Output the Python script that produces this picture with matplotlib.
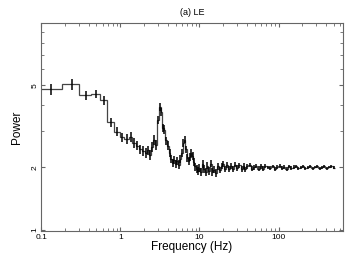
import matplotlib
matplotlib.use("Agg")
import matplotlib.pyplot as plt
import numpy as np
from matplotlib.ticker import FixedLocator, NullFormatter, FixedFormatter

# rebinned power spectrum (bin centres, power, 1-sigma errors)
freq = [0.135, 0.245, 0.37, 0.49, 0.62, 0.76, 0.91, 1.06, 1.2, 1.35,
        1.5, 1.65, 1.8, 1.95, 2.1, 2.25, 2.4, 2.55, 2.7, 2.85,
        3.0, 3.15, 3.3, 3.45, 3.6, 3.8, 4.0, 4.2, 4.4, 4.6,
        4.8, 5.0, 5.25, 5.5, 5.75, 6.0, 6.25, 6.5, 6.75, 7.0,
        7.3, 7.6, 7.9, 8.2, 8.5, 8.8, 9.2, 9.6, 10.0, 10.5,
        11, 11.5, 12, 12.6, 13.2, 13.9, 14.6, 15.3, 16, 17,
        18, 19, 20, 21, 22, 23.5, 25, 26.5, 28, 30,
        32, 34, 36, 38, 40, 43, 46, 49, 52, 56,
        60, 64, 68, 73, 78, 84, 90, 96, 103, 110,
        118, 126, 135, 145, 155, 166, 178, 190, 204, 218,
        234, 250, 268, 287, 307, 329, 352, 377, 404, 432,
        463, 500]
power = [4.77, 5.04, 4.47, 4.52, 4.23, 3.30, 2.98, 2.80, 2.74, 2.82,
         2.62, 2.55, 2.45, 2.40, 2.36, 2.42, 2.30, 2.52, 2.72, 2.58,
         3.40, 3.92, 3.70, 3.10, 3.05, 2.70, 2.55, 2.35, 2.20, 2.10,
         2.18, 2.08, 2.15, 2.06, 2.20, 2.35, 2.62, 2.72, 2.45, 2.22,
         2.15, 2.25, 2.35, 2.28, 2.12, 2.02, 1.96, 1.92, 1.98, 1.90,
         2.08, 1.96, 1.90, 2.04, 1.92, 2.08, 1.90, 1.95, 1.88, 2.02,
         1.94, 2.04, 2.08, 1.96, 2.05, 1.97, 2.03, 1.97, 2.06, 1.99,
         2.05, 1.97, 2.03, 1.96, 2.02, 2.05, 1.97, 2.00, 2.03, 1.97,
         2.02, 1.97, 2.03, 2.00, 1.98, 2.02, 1.97, 2.01, 2.03, 1.98,
         2.01, 1.97, 2.02, 1.98, 2.01, 2.02, 1.98, 2.00, 2.02, 1.98,
         2.00, 2.02, 1.98, 2.01, 2.02, 1.98, 2.00, 2.02, 1.98, 2.01,
         2.02, 1.99]
err = [0.30, 0.30, 0.22, 0.20, 0.22, 0.16, 0.15, 0.15, 0.15, 0.16,
       0.14, 0.13, 0.13, 0.13, 0.13, 0.13, 0.13, 0.14, 0.14, 0.14,
       0.16, 0.18, 0.17, 0.14, 0.14, 0.12, 0.12, 0.11, 0.10, 0.10,
       0.10, 0.10, 0.10, 0.10, 0.10, 0.10, 0.11, 0.11, 0.10, 0.10,
       0.10, 0.10, 0.10, 0.10, 0.09, 0.09, 0.09, 0.09, 0.09, 0.09,
       0.09, 0.09, 0.08, 0.08, 0.08, 0.08, 0.08, 0.08, 0.08, 0.07,
       0.07, 0.07, 0.07, 0.07, 0.07, 0.06, 0.06, 0.06, 0.06, 0.06,
       0.06, 0.06, 0.06, 0.05, 0.05, 0.05, 0.05, 0.05, 0.05, 0.05,
       0.05, 0.05, 0.05, 0.04, 0.04, 0.04, 0.04, 0.04, 0.04, 0.04,
       0.04, 0.04, 0.04, 0.04, 0.04, 0.03, 0.03, 0.03, 0.03, 0.03,
       0.03, 0.03, 0.03, 0.03, 0.03, 0.03, 0.03, 0.03, 0.03, 0.03,
       0.03, 0.03]

f = np.array(freq)
edges = np.concatenate([[0.1], np.sqrt(f[:-1] * f[1:]), [520]])

plt.rcParams['font.family'] = ['Liberation Sans', 'DejaVu Sans']

fig = plt.figure(figsize=(3.54, 2.73), dpi=100)
ax = fig.add_axes([0.116, 0.154, 0.853, 0.762])

ax.stairs(power, edges, baseline=None, color='#444444', linewidth=0.9)
ax.errorbar(freq, power, yerr=err, fmt='none', ecolor='black', elinewidth=1.1)

ax.set_xscale('log')
ax.set_yscale('log')
ax.set_xlim(0.1, 650)
ax.set_ylim(0.985, 10)

ax.yaxis.set_major_locator(FixedLocator([1, 2, 5]))
ax.yaxis.set_major_formatter(FixedFormatter(['1', '2', '5']))
ax.yaxis.set_minor_locator(FixedLocator([3, 4, 6, 7, 8, 9]))
ax.yaxis.set_minor_formatter(NullFormatter())
ax.xaxis.set_major_locator(FixedLocator([0.1, 1, 10, 100]))
ax.xaxis.set_major_formatter(FixedFormatter(['0.1', '1', '10', '100']))

for s in ax.spines.values():
    s.set_color('#666666')
    s.set_linewidth(0.8)
ax.tick_params(which='both', direction='in', top=True, right=True,
               color='#666666', labelsize=6, pad=2)
ax.tick_params(which='major', length=3)
ax.tick_params(which='minor', length=2)
for lab in ax.get_yticklabels():
    lab.set_rotation(90)
    lab.set_va('center')

ax.set_xlabel("Frequency (Hz)", fontsize=8.5, labelpad=0)
ax.set_ylabel("Power", fontsize=8.5, labelpad=6)
ax.set_title("(a) LE", fontsize=6.5, pad=6)

fig.savefig("out.png", dpi=100)
